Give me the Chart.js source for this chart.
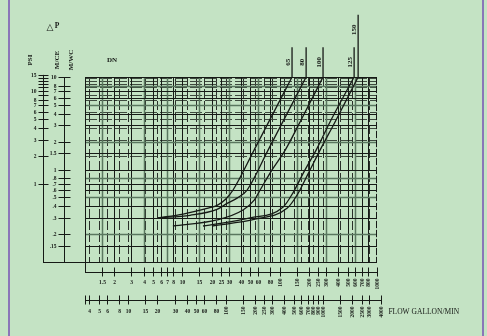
<!DOCTYPE html>
<html>
<head>
<meta charset="utf-8">
<script src="https://cdn.jsdelivr.net/npm/chart.js@4.4.1/dist/chart.umd.min.js"></script>
<style>
    html, body { margin: 0; padding: 0; background: #c4e3c4; }
    #wrap { position: relative; width: 487px; height: 336px; }
</style>
</head>
<body>
<div id="wrap"><canvas id="chart" width="487" height="336"></canvas></div>
<script>
// flow scale under the grid (m3/h) and the gallon/min scale below it
const flowM3h = [1.5, 2, 3, 4, 5, 6, 7, 8, 10, 15, 20, 25, 30, 40, 50, 60, 80, 100, 150, 200, 250, 300, 400, 500, 600, 700, 800, 1000];
const flowGpm = [4, 5, 6, 8, 10, 15, 20, 30, 40, 50, 60, 80, 100, 150, 200, 250, 300, 400, 500, 600, 700, 800, 900, 1000, 1500, 2000, 2500, 3000, 4000];

// pressure drop scales on the left
const headM = [0.15, 0.2, 0.3, 0.4, 0.5, 0.6, 0.7, 0.8, 1, 1.5, 2, 3, 4, 5, 6, 7, 8, 10];
const headMLabels = ['.15', '.2', '.3', '.4', '.5', '.6', '.7', '.8', '1', '1.5', '2', '3', '4', '5', '6', '7', '8', '10'];
const headPsi = [1, 2, 3, 4, 5, 6, 7, 8, 9, 10, 11, 12, 13, 14, 15];
const headPsiLabels = ['1', '2', '3', '4', '5', '6', '7', '8', '', '10', '', '', '', '', '15'];

// valve curves: flow (m3/h) and pressure drop (m)
const dnLabels = ['65', '80', '100', '125', '150'];
const dn65Q = [5.6, 10.2, 17.9, 22.8, 28, 33.2, 54.6, 134];
const dn65H = [0.30, 0.33, 0.38, 0.41, 0.48, 0.60, 1.62, 10];
const dn80Q = [5.6, 12, 22.7, 28.8, 36.5, 46.3, 76, 187];
const dn80H = [0.30, 0.32, 0.37, 0.43, 0.49, 0.60, 1.62, 10];
const dn100Q = [8.0, 22.7, 42, 55, 63, 83.5, 114, 166, 279];
const dn100H = [0.245, 0.285, 0.365, 0.47, 0.60, 0.99, 1.62, 3.43, 10];
const dn125Q = [16.3, 49.6, 108, 137, 182, 237, 337, 582];
const dn125H = [0.245, 0.30, 0.39, 0.56, 0.99, 1.62, 3.43, 10];
const dn150Q = [20.2, 55.9, 119, 151, 200, 260, 380, 640];
const dn150H = [0.245, 0.29, 0.38, 0.53, 0.94, 1.62, 3.43, 10];
// where the size leader lines stop above the grid (m)
const leaderTopH = [21, 21, 21, 21, 47];

const curveQ = [dn65Q, dn80Q, dn100Q, dn125Q, dn150Q];
const curveH = [dn65H, dn80H, dn100H, dn125H, dn150H];

const INK = '#161a16';
const SOFT = '#5a775f';
const LABEL_FONT = 'bold 5.5px "Liberation Serif"';

const datasets = [];
curveQ.forEach(function(qs, i) {
    datasets.push({
        data: qs.map((q, j) => ({ x: q, y: curveH[i][j] })),
        showLine: true,
        borderColor: INK,
        borderWidth: 1.3,
        pointRadius: 0,
        cubicInterpolationMode: 'monotone'
    });
});
curveQ.forEach(function(qs, i) {
    const qTop = qs[qs.length - 1];
    datasets.push({
        data: [{ x: qTop, y: 10 }, { x: qTop, y: leaderTopH[i] }],
        showLine: true,
        borderColor: INK,
        borderWidth: 1.3,
        pointRadius: 0,
        tension: 0,
        clip: false
    });
});

function rotText(ctx, txt, x, y, align) {
    ctx.save();
    ctx.translate(x, y);
    ctx.rotate(-Math.PI / 2);
    ctx.textAlign = align;
    ctx.textBaseline = 'middle';
    ctx.fillText(txt, 0, 0);
    ctx.restore();
}

const paperPlugin = {
    id: 'paper',
    beforeDraw(chart) {
        const ctx = chart.ctx;
        ctx.save();
        ctx.fillStyle = '#c4e3c4';
        ctx.fillRect(0, 0, chart.width, chart.height);
        ctx.fillStyle = '#8a76b8';
        ctx.fillRect(8, 0, 2, chart.height);
        ctx.fillRect(482, 0, 2, chart.height);
        ctx.restore();
    },
    beforeDatasetsDraw(chart) {
        const ctx = chart.ctx;
        const a = chart.chartArea;
        const xs = chart.scales.x, ys = chart.scales.y;
        const gs = chart.scales.gpm, ps = chart.scales.psi;
        ctx.save();
        ctx.beginPath();
        ctx.rect(a.left, a.top, a.right - a.left, a.bottom - a.top);
        ctx.clip();

        // gallon/min verticals, dashed
        ctx.strokeStyle = '#2a302a';
        ctx.lineWidth = 1;
        ctx.setLineDash([9, 3]);
        flowGpm.forEach(function(v) {
            const x = Math.round(gs.getPixelForValue(v)) + 0.5;
            ctx.beginPath(); ctx.moveTo(x, a.top); ctx.lineTo(x, a.bottom); ctx.stroke();
        });
        // psi horizontals, dashed
        ctx.strokeStyle = '#3e4a3e';
        ctx.setLineDash([12, 3]);
        headPsi.forEach(function(v) {
            const y = Math.round(ps.getPixelForValue(v)) + 0.5;
            ctx.beginPath(); ctx.moveTo(a.left, y); ctx.lineTo(a.right, y); ctx.stroke();
        });
        ctx.setLineDash([]);

        // m3/h verticals, solid
        flowM3h.forEach(function(v, i) {
            const x = Math.round(xs.getPixelForValue(v)) + 0.5;
            ctx.strokeStyle = i % 3 === 0 ? SOFT : INK;
            ctx.lineWidth = i % 3 === 0 ? 1.5 : 1;
            ctx.beginPath(); ctx.moveTo(x, a.top); ctx.lineTo(x, a.bottom); ctx.stroke();
        });
        // metre horizontals, solid
        headM.forEach(function(v, i) {
            const y = Math.round(ys.getPixelForValue(v)) + 0.5;
            ctx.strokeStyle = i % 3 === 1 ? SOFT : INK;
            ctx.lineWidth = i % 3 === 1 ? 1.5 : 1;
            ctx.beginPath(); ctx.moveTo(a.left, y); ctx.lineTo(a.right, y); ctx.stroke();
        });
        ctx.restore();

        // frame
        ctx.save();
        ctx.strokeStyle = INK;
        ctx.lineWidth = 1;
        ctx.beginPath();
        ctx.moveTo(a.right, a.top + 0.5); ctx.lineTo(a.left + 0.5, a.top + 0.5);
        ctx.lineTo(a.left + 0.5, a.bottom + 10);
        ctx.stroke();
        ctx.beginPath();
        ctx.moveTo(a.left - 42, a.bottom + 0.5); ctx.lineTo(a.right, a.bottom + 0.5);
        ctx.stroke();
        ctx.setLineDash([7, 2]);
        ctx.beginPath();
        ctx.moveTo(a.right - 0.5, a.top); ctx.lineTo(a.right - 0.5, a.bottom);
        ctx.stroke();
        ctx.restore();
    },
    afterDraw(chart) {
        const ctx = chart.ctx;
        const a = chart.chartArea;
        const xs = chart.scales.x, ys = chart.scales.y;
        const gs = chart.scales.gpm, ps = chart.scales.psi;
        ctx.save();
        ctx.strokeStyle = INK;
        ctx.fillStyle = '#151815';
        ctx.lineWidth = 1;

        // PSI axis
        const psiX = a.left - 41.5;
        ctx.beginPath();
        ctx.moveTo(psiX, ps.getPixelForValue(15)); ctx.lineTo(psiX, a.bottom);
        ctx.stroke();
        ctx.font = LABEL_FONT;
        ctx.textAlign = 'right';
        ctx.textBaseline = 'middle';
        headPsi.forEach(function(v, i) {
            const y = Math.round(ps.getPixelForValue(v)) + 0.5;
            ctx.beginPath(); ctx.moveTo(psiX - 5, y); ctx.lineTo(psiX + 5, y); ctx.stroke();
            if (headPsiLabels[i]) ctx.fillText(headPsiLabels[i], psiX - 7, y);
        });

        // M/CE - M/WC axis
        const mX = a.left - 20.5;
        ctx.beginPath();
        ctx.moveTo(mX, a.top); ctx.lineTo(mX, a.bottom);
        ctx.stroke();
        headM.forEach(function(v, i) {
            const y = Math.round(ys.getPixelForValue(v)) + 0.5;
            ctx.beginPath(); ctx.moveTo(mX - 6, y); ctx.lineTo(mX + 6, y); ctx.stroke();
            ctx.fillText(headMLabels[i], mX - 8, y);
        });

        // m3/h scale
        const r1 = a.bottom + 10.5;
        ctx.beginPath();
        ctx.moveTo(a.left, r1); ctx.lineTo(a.right, r1);
        ctx.stroke();
        flowM3h.forEach(function(v) {
            const x = Math.round(xs.getPixelForValue(v)) + 0.5;
            ctx.beginPath(); ctx.moveTo(x, r1 - 5); ctx.lineTo(x, r1 + 4); ctx.stroke();
            if (v < 100) {
                ctx.textAlign = 'center';
                ctx.fillText(String(v), x, r1 + 10);
            } else {
                rotText(ctx, String(v), x, r1 + 6, 'right');
            }
        });

        // gallon/min scale
        const r2 = a.bottom + 38.5;
        const xEnd = gs.getPixelForValue(4000);
        ctx.beginPath();
        ctx.moveTo(a.left, r2); ctx.lineTo(xEnd, r2);
        ctx.moveTo(a.left + 0.5, r2 - 5); ctx.lineTo(a.left + 0.5, r2 + 4);
        ctx.stroke();
        flowGpm.forEach(function(v) {
            const x = Math.round(gs.getPixelForValue(v)) + 0.5;
            ctx.beginPath(); ctx.moveTo(x, r2 - 5); ctx.lineTo(x, r2 + 4); ctx.stroke();
            if (v < 100) {
                ctx.textAlign = 'center';
                ctx.fillText(String(v), x, r2 + 11);
            } else {
                rotText(ctx, String(v), x, r2 + 6, 'right');
            }
        });
        ctx.font = '7.5px "Liberation Serif"';
        ctx.textAlign = 'left';
        ctx.fillText('FLOW GALLON/MIN', xEnd + 7, r2 + 12);

        // headers
        ctx.font = 'bold 7px "Liberation Serif"';
        rotText(ctx, 'PSI', 30, 60, 'center');
        rotText(ctx, 'M/CE', 57, 60, 'center');
        rotText(ctx, 'M/WC', 71, 60, 'center');
        ctx.textAlign = 'center';
        ctx.fillText('DN', 112, 60);
        ctx.font = 'bold 9px "DejaVu Sans"';
        ctx.fillText('\u25B3', 50, 28);
        ctx.font = 'bold 7.5px "Liberation Serif"';
        ctx.fillText('P', 57, 26);

        // size labels beside the leader lines
        ctx.font = 'bold 7px "Liberation Serif"';
        dnLabels.forEach(function(lbl, i) {
            const top = chart.getDatasetMeta(curveQ.length + i).data[1];
            rotText(ctx, lbl, top.x - 4, top.y + 15, 'center');
        });
        ctx.restore();
    }
};

new Chart(document.getElementById('chart'), {
    type: 'scatter',
    data: { datasets: datasets },
    options: {
        responsive: false,
        animation: false,
        events: [],
        layout: { padding: { left: 85, right: 110, top: 77, bottom: 74 } },
        plugins: { legend: { display: false }, tooltip: { enabled: false } },
        scales: {
            x: { type: 'logarithmic', min: 1, max: 1000, display: false },
            y: { type: 'logarithmic', min: 0.1, max: 10, display: false },
            gpm: { type: 'logarithmic', axis: 'x', min: 3.6, max: 3600, display: false },
            psi: { type: 'logarithmic', axis: 'y', min: 0.1 / 0.703, max: 10 / 0.703, display: false }
        }
    },
    plugins: [paperPlugin]
});
</script>
</body>
</html>
